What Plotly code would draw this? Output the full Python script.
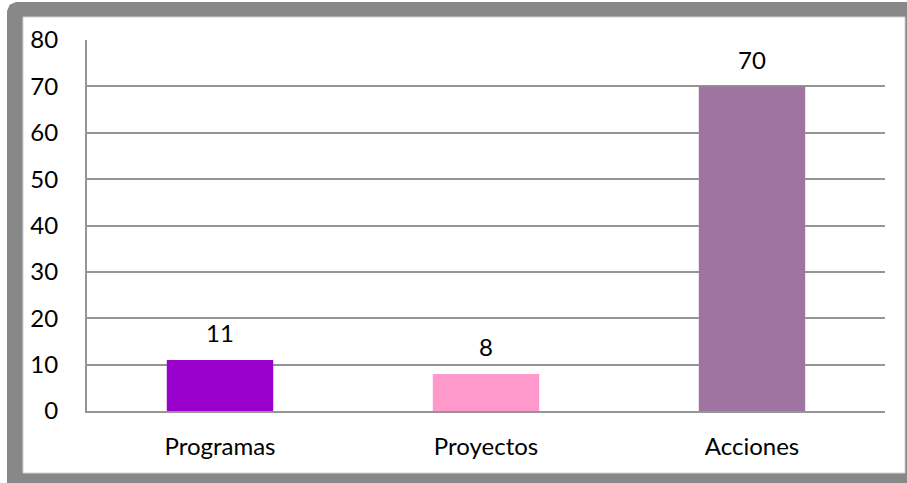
import plotly.graph_objects as go

categories = ["Programas", "Proyectos", "Acciones"]
values = [11, 8, 70]
bar_colors = ["#9900CC", "#FF99CC", "#9F74A0"]
y_ticks = [0, 10, 20, 30, 40, 50, 60, 70, 80]

W, H = 907, 483
L, R, T, B = 87, 22, 40, 72
FONT = "Lato"
FS = 24
GRID = "#959595"
FRAME = "#888888"


def px(x, y):
    # pixel -> paper coords
    return (x - L) / (W - L - R), (H - B - y) / (H - T - B)


def path(points):
    s = ""
    for i, (x, y) in enumerate(points):
        xp, yp = px(x, y)
        s += ("M" if i == 0 else "L") + f"{xp:.5f},{yp:.5f} "
    return s + "Z"


fig = go.Figure(go.Bar(
    x=categories, y=values, marker_color=bar_colors,
    marker_line_width=0, showlegend=False, hoverinfo="x+y",
))

# value labels above bars
for c, v in zip(categories, values):
    fig.add_annotation(x=c, y=v, text=str(v), showarrow=False,
                       yanchor="middle", yshift=27,
                       font=dict(family=FONT, size=FS, color="#000"))

# grey frame with rounded top-left corner
r = 9
outer = [(7, 2 + r), (7 + r * 0.3, 2 + r * 0.3), (7 + r, 2), (907, 2), (907, 483), (7, 483)]
inner = [(23, 17), (905, 17), (905, 473), (23, 473)]
fig.add_shape(type="path", path=path(outer), xref="paper", yref="paper",
              fillcolor=FRAME, line_width=0, layer="below")
fig.add_shape(type="path", path=path(inner), xref="paper", yref="paper",
              fillcolor="white", line=dict(color="#d0d0d0", width=1), layer="below")

fig.update_layout(
    width=W, height=H,
    margin=dict(l=L, r=R, t=T, b=B),
    paper_bgcolor="white", plot_bgcolor="rgba(0,0,0,0)",
    bargap=0.6,
    font=dict(family=FONT, size=FS, color="#000"),
)
fig.update_xaxes(showgrid=False, showline=True, linecolor=GRID, linewidth=2,
                 ticks="", ticklabelstandoff=13,
                 tickfont=dict(family=FONT, size=FS, color="#000"))
fig.update_yaxes(range=[0, 80], tickvals=y_ticks, showgrid=True,
                 gridcolor=GRID, gridwidth=2, zeroline=False,
                 showline=True, linecolor=GRID, linewidth=2,
                 ticks="", ticklabelstandoff=22,
                 tickfont=dict(family=FONT, size=FS, color="#000"))

# page body has an 8px default margin; drop it so the figure sits at 0,0
fig.write_html("out.html", config={"displayModeBar": False},
               post_script="document.body.style.margin='0';")
